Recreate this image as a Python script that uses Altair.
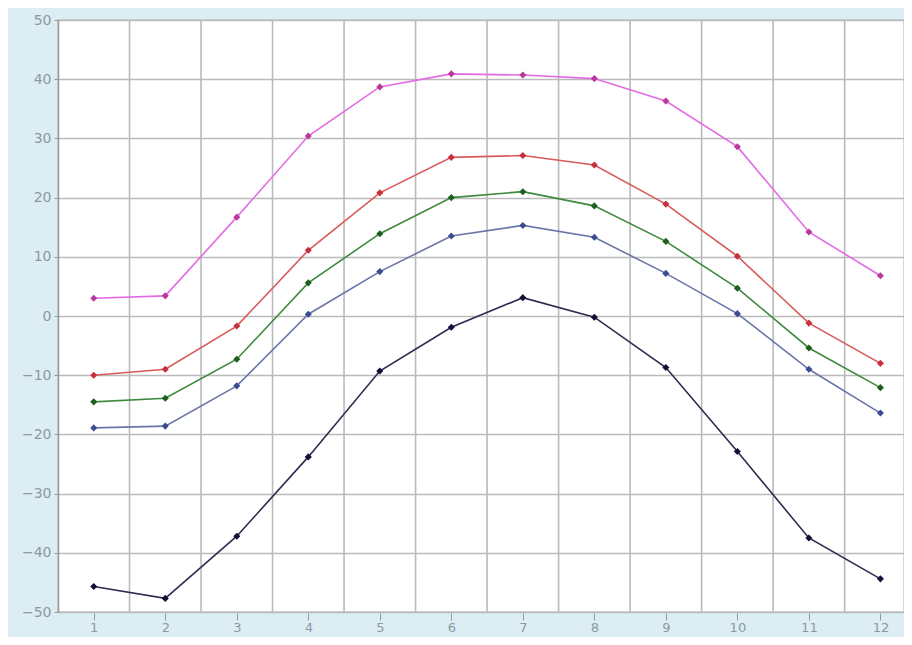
import altair as alt
import pandas as pd

months = list(range(1, 13))
s_max = [3.0, 3.4, 16.7, 30.4, 38.7, 40.9, 40.7, 40.1, 36.3, 28.6, 14.2, 6.8]
s_red = [-10.0, -9.0, -1.7, 11.1, 20.8, 26.8, 27.1, 25.5, 18.9, 10.1, -1.2, -8.0]
s_green = [-14.5, -13.9, -7.3, 5.6, 13.9, 20.0, 21.0, 18.6, 12.6, 4.7, -5.4, -12.1]
s_blue = [-18.9, -18.6, -11.8, 0.3, 7.5, 13.5, 15.3, 13.3, 7.2, 0.4, -9.0, -16.4]
s_min = [-45.7, -47.7, -37.2, -23.8, -9.3, -1.9, 3.1, -0.2, -8.7, -22.9, -37.5, -44.4]

series_names = ["max", "high", "mean", "low", "min"]
series_vals = [s_max, s_red, s_green, s_blue, s_min]
line_colors = ["#e46ae4", "#d85a5a", "#3e8a3e", "#6a76a8", "#2c2c50"]
point_colors = ["#b8389c", "#c8303c", "#1e5e1e", "#3c4c90", "#10103a"]

rows = []
for name, vals in zip(series_names, series_vals):
    for m, v in zip(months, vals):
        rows.append({"month": m, "value": v, "series": name})
df = pd.DataFrame(rows)
grid_df = pd.DataFrame({"month": months[:-1]})

xscale = alt.Scale(domain=[0.5, 12.33], nice=False, zero=False)
yscale = alt.Scale(domain=[-50, 50], nice=False)

x_axis = alt.Axis(values=months, grid=False, title=None, labelColor="#8a9aa2",
                  labelFontSize=13, labelFont="DejaVu Sans", tickColor="#8a9aa2",
                  tickSize=7, labelPadding=1, domain=False, offset=1)
y_axis = alt.Axis(values=list(range(-50, 51, 10)), grid=True, gridColor="#bababa",
                  gridWidth=1.6, title=None, labelColor="#8a9aa2", labelFontSize=14,
                  labelFont="DejaVu Sans", tickColor="#8a9aa2", tickSize=4,
                  domainColor="#9a9a9a", domainWidth=1.5, labelPadding=3)

vgrid = alt.Chart(grid_df).transform_calculate(b="datum.month + 0.5").mark_rule(
    color="#bababa", strokeWidth=1.6
).encode(x=alt.X("b:Q", scale=xscale, axis=x_axis))

color_scale = alt.Scale(domain=series_names, range=line_colors)
pcolor_scale = alt.Scale(domain=series_names, range=point_colors)

lines = alt.Chart(df).mark_line(strokeWidth=1.6).encode(
    x=alt.X("month:Q", scale=xscale, axis=x_axis),
    y=alt.Y("value:Q", scale=yscale, axis=y_axis),
    color=alt.Color("series:N", scale=color_scale, legend=None),
)
points = alt.Chart(df).mark_point(shape="diamond", filled=True, size=50, opacity=1).encode(
    x=alt.X("month:Q", scale=xscale, axis=x_axis),
    y=alt.Y("value:Q", scale=yscale, axis=y_axis),
    color=alt.Color("series:N", scale=pcolor_scale, legend=None),
)

chart = alt.layer(vgrid, lines, points).resolve_scale(color="independent").properties(
    width=846, height=592,
    background="#dcedf3",
    padding={"left": 50, "top": 12, "right": 0, "bottom": 25},
    autosize=alt.AutoSizeParams(type="none"),
).configure_view(fill="white", stroke="#c8c8c8", strokeWidth=1.5)

chart.save("out.html", embed_options={"renderer": "svg", "actions": False})
